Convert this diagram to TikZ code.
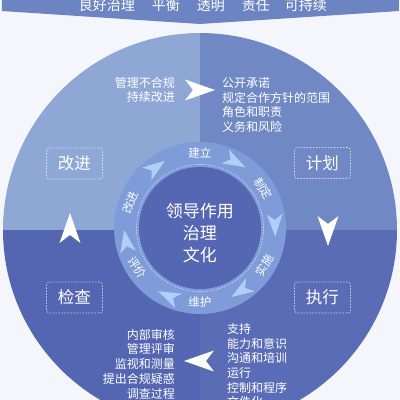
\documentclass[tikz,border=0pt]{standalone}
\usepackage{fontspec}
\newfontfamily\cjk{Noto Sans CJK SC}
\begin{document}
\begin{tikzpicture}[x=1pt,y=1pt]
  \tikzset{
    spike/.pic ={
      \fill[pic actions,rotate=#1]
        (15,0) -- (-15,10.5) -- (-7,0) -- (-15,-10.5) -- cycle;
    },
    stagebox/.style={draw=white,draw opacity=0.65,dash pattern=on 1.5pt off 1.5pt,
      rounded corners=3pt,line width=0.7pt,minimum width=56pt,minimum height=31pt,
      text=white,font=\cjk\fontsize{16.5}{20}\selectfont},
    blocktext/.style={text=white,inner sep=0pt,font=\cjk\fontsize{12}{14.7}\selectfont},
    ringtext/.style={text=white,inner sep=0pt,font=\cjk\fontsize{11.5}{13}\selectfont},
  }
  \definecolor{paper}{HTML}{F5F6FB}
  \definecolor{banner}{HTML}{6C84C1}
  \definecolor{improveblue}{HTML}{8FA7D5}
  \definecolor{planblue}{HTML}{7088C3}
  \definecolor{checkblue}{HTML}{5466B1}
  \definecolor{doblue}{HTML}{5A6CB5}
  \definecolor{ringblue}{HTML}{7F9CD8}
  \definecolor{coreblue}{HTML}{5567B3}
  \definecolor{ringarrow}{HTML}{B2CEF6}
  \useasboundingbox (-200,-170) rectangle (200,230);
  \fill[paper] (-200,-170) rectangle (200,230);
  \fill[banner] (-198,234) -- (199,234) -- (199,219) -- (0,206) -- (-198,219) -- cycle;
  \node[text=white,font=\cjk\fontsize{14}{16}\selectfont] (motto) at (3,225)
    {良好治理\hspace{17pt}平衡\hspace{17pt}透明\hspace{17pt}责任\hspace{15pt}可持续};
  \begin{scope}
    \clip (0,0) circle (197);
    \fill[improveblue] (-200,0) rectangle (0,200);
    \fill[planblue] (0,0) rectangle (200,200);
    \fill[checkblue] (-200,-200) rectangle (0,0);
    \fill[doblue] (0,-200) rectangle (200,0);
  \end{scope}
  \fill[ringblue] (0,2) circle (86);
  \fill[coreblue] (0,2) circle (61);
  \draw[white,draw opacity=0.7,dash pattern=on 1.5pt off 1.5pt,line width=0.6pt] (0,2) circle (63.5);
  \node[text=white,align=center,font=\cjk\fontsize{17}{22}\selectfont] (core) at (0,-3)
    {领导作用\\治理\\文化};
  \foreach \ang/\rot/\txt [count=\i] in {90/0/建立, 32/-58/制定, -30/60/实施, -90/0/维护, -148/-58/评价, 160/70/改进} {
    \node[ringtext,rotate=\rot] (stage\i) at ([shift={(0,2)}]\ang:74.5) {\txt};
  }
  \foreach \ang in {62, 2, -57, -115, -170, 126} {
    \draw ([shift={(0,2)}]\ang:75) pic[ringarrow,scale=0.75] {spike={\ang-90}};
  }
  \foreach \x/\y/\r in {0/140/0, 128/-1/-90, -1/-131/180, -130/2/90} {
    \draw (\x,\y) pic[white] {spike={\r}};
  }
  \node[stagebox] (improve) at (-125.5,66.5) {改进};
  \node[stagebox] (plan) at (122.5,67) {计划};
  \node[stagebox] (check) at (-125.5,-67.5) {检查};
  \node[stagebox] (doit) at (122.5,-67.5) {执行};
  \node[blocktext,align=right,anchor=east] (improvetext) at (-25,140) {管理不合规\\持续改进};
  \node[blocktext,align=left,anchor=west] (plantext) at (22,125)
    {公开承诺\\规定合作方针的范围\\角色和职责\\义务和风险};
  \node[blocktext,align=right,anchor=east] (checktext) at (-25,-134)
    {内部审核\\管理评审\\监视和测量\\提出合规疑惑\\调查过程};
  \node[blocktext,align=left,anchor=west] (dotext) at (27,-135.5)
    {支持\\能力和意识\\沟通和培训\\运行\\控制和程序\\文件化};
\end{tikzpicture}
\end{document}
